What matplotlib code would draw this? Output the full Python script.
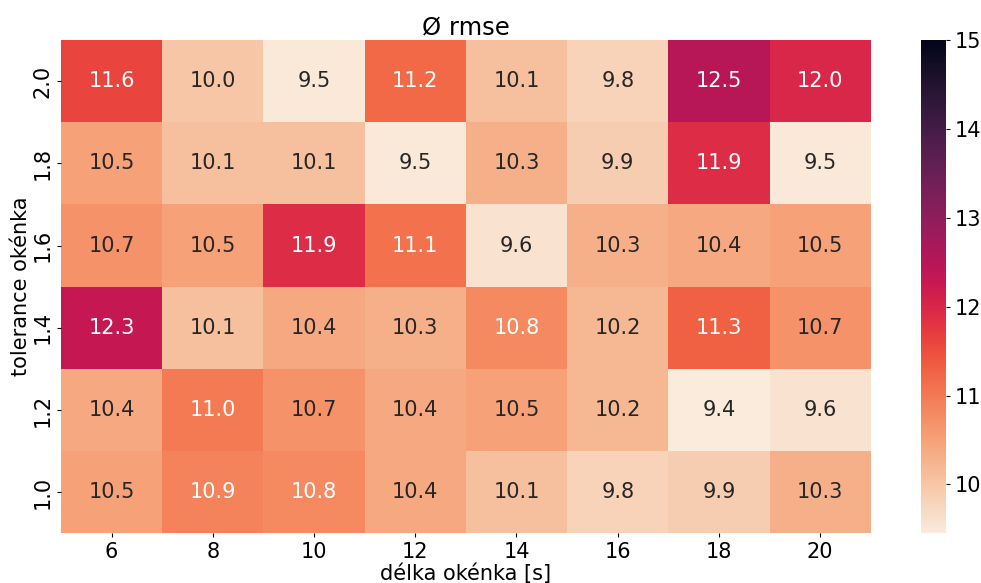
import matplotlib
matplotlib.use("Agg")
import matplotlib.pyplot as plt
import pandas as pd
import seaborn as sns

# window length [s] and window tolerance
window_lengths = [6, 8, 10, 12, 14, 16, 18, 20]
tolerances = [2.0, 1.8, 1.6, 1.4, 1.2, 1.0]

rmse_20 = [11.6, 10.0, 9.5, 11.2, 10.1, 9.8, 12.5, 12.0]
rmse_18 = [10.5, 10.1, 10.1, 9.5, 10.3, 9.9, 11.9, 9.5]
rmse_16 = [10.7, 10.5, 11.9, 11.1, 9.6, 10.3, 10.4, 10.5]
rmse_14 = [12.3, 10.1, 10.4, 10.3, 10.8, 10.2, 11.3, 10.7]
rmse_12 = [10.4, 11.0, 10.7, 10.4, 10.5, 10.2, 9.4, 9.6]
rmse_10 = [10.5, 10.9, 10.8, 10.4, 10.1, 9.8, 9.9, 10.3]

table = pd.DataFrame(
    [rmse_20, rmse_18, rmse_16, rmse_14, rmse_12, rmse_10],
    index=[f"{t:.1f}" for t in tolerances],
    columns=window_lengths,
)

fig = plt.figure(figsize=(9.81, 5.83), dpi=100)
ax = fig.add_axes([0.0622, 0.0852, 0.8254, 0.8462])
cax = fig.add_axes([0.9388, 0.0852, 0.0255, 0.8462])
sns.heatmap(
    table,
    ax=ax,
    cbar_ax=cax,
    cmap="rocket_r",
    vmin=9.45,
    vmax=15,
    annot=True,
    fmt=".1f",
    annot_kws={"fontsize": 15},
)
ax.set_title("Ø rmse", fontsize=17.5, pad=3)
ax.set_xlabel("délka okénka [s]", fontsize=15, labelpad=1)
ax.set_ylabel("tolerance okénka", fontsize=15, labelpad=1)
ax.tick_params(labelsize=15, length=3, pad=3)
cax.tick_params(labelsize=15, length=3, pad=3)

fig.savefig("out.png", dpi=100)
